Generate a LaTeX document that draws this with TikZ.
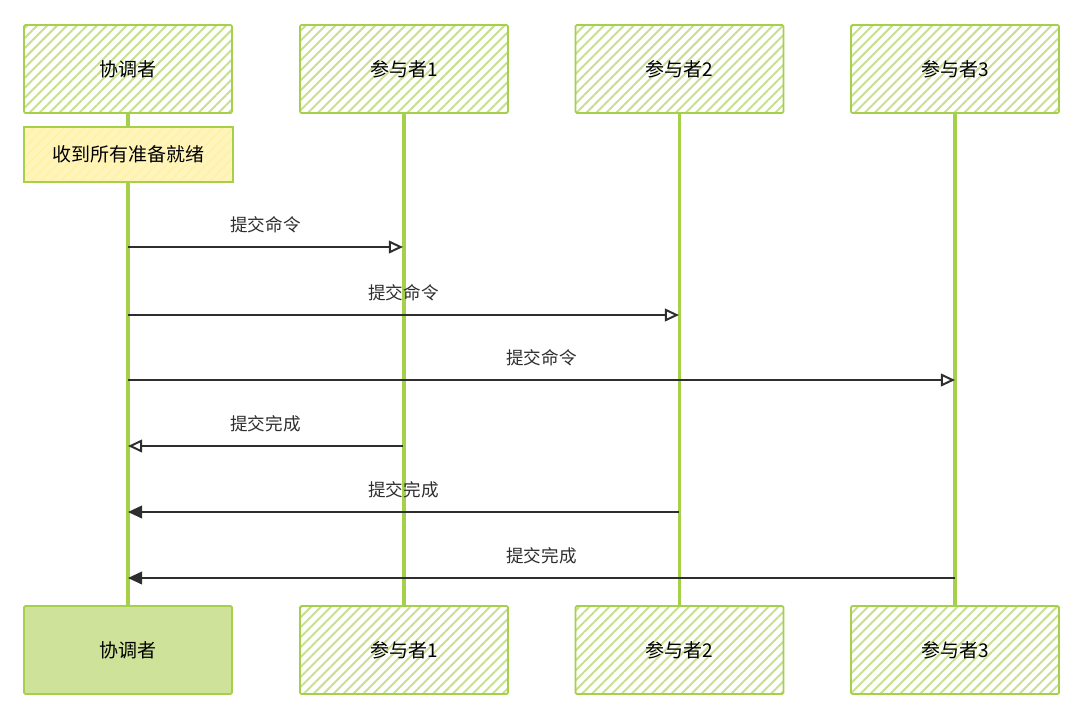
\documentclass[tikz,border=0pt]{standalone}
\usepackage{fontspec}
\setmainfont{Noto Sans CJK SC}
\usepackage{tikz}
\usetikzlibrary{arrows.meta,patterns.meta}

\definecolor{lifegreen}{HTML}{A6D04A}
\definecolor{hatchgreen}{HTML}{C6E08F}
\definecolor{solidgreen}{HTML}{CEE299}
\definecolor{noteyellow}{HTML}{FFF2A6}
\definecolor{ink}{HTML}{2E2E2E}

\tikzset{
  actor/.style={draw=lifegreen, line width=1.3pt, rounded corners=1pt,
    minimum width=208*0.025cm, minimum height=88*0.025cm,
    pattern={Lines[angle=45,distance=5pt,line width=1.4pt]}, pattern color=hatchgreen,
    font=\fontsize{13.5}{15}\selectfont},
  actorsolid/.style={actor, pattern=none, fill=solidgreen},
  notebox/.style={draw=lifegreen, line width=1.3pt,
    minimum width=209*0.025cm, minimum height=55*0.025cm,
    preaction={fill=noteyellow!75},
    pattern={Lines[angle=45,distance=5pt,line width=1.4pt]}, pattern color=noteyellow,
    font=\fontsize{13.5}{15}\selectfont},
  lifeline/.style={draw=lifegreen, line width=2.3pt},
  cmd/.style={draw=ink, line width=1.4pt, -{Triangle[open,length=10pt,width=9pt]}},
  ack/.style={draw=ink, line width=1.4pt, -{Triangle[length=10pt,width=9pt]}},
  msg/.style={font=\fontsize{12.5}{14}\selectfont, text=ink, above=6pt}
}

\begin{document}
\begin{tikzpicture}[x=0.025cm, y=-0.025cm]
  \useasboundingbox (0,0) rectangle (1080,719);
  % actors
  \node[actor] (coord) at (128,69) {协调者};
  \node[actor] (p1) at (404,69) {参与者1};
  \node[actor] (p2) at (679.5,69) {参与者2};
  \node[actor] (p3) at (955,69) {参与者3};
  \node[actorsolid] (coordB) at (128,650) {协调者};
  \node[actor] (p1B) at (404,650) {参与者1};
  \node[actor] (p2B) at (679.5,650) {参与者2};
  \node[actor] (p3B) at (955,650) {参与者3};
  % lifelines
  \draw[lifeline] (coord) -- (coordB);
  \draw[lifeline] (p1) -- (p1B);
  \draw[lifeline] (p2) -- (p2B);
  \draw[lifeline] (p3) -- (p3B);
  % note
  \node[notebox] (ready) at (128.5,154.5) {收到所有准备就绪};
  % points on the lifelines
  \coordinate (c1) at (128,247);  \coordinate (a1) at (403,247);
  \coordinate (c2) at (128,315);  \coordinate (b2) at (679,315);
  \coordinate (c3) at (128,380);  \coordinate (d3) at (955,380);
  \coordinate (c4) at (128,446);  \coordinate (a4) at (403,446);
  \coordinate (c5) at (128,512);  \coordinate (b5) at (679,512);
  \coordinate (c6) at (128,578);  \coordinate (d6) at (955,578);
  % messages
  \draw[cmd] (c1) -- (a1) node[pos=0.5,msg] {提交命令};
  \draw[cmd] (c2) -- (b2) node[pos=0.5,msg] {提交命令};
  \draw[cmd] (c3) -- (d3) node[pos=0.5,msg] {提交命令};
  \draw[cmd] (a4) -- (c4) node[pos=0.5,msg] {提交完成};
  \draw[ack] (b5) -- (c5) node[pos=0.5,msg] {提交完成};
  \draw[ack] (d6) -- (c6) node[pos=0.5,msg] {提交完成};
\end{tikzpicture}
\end{document}
